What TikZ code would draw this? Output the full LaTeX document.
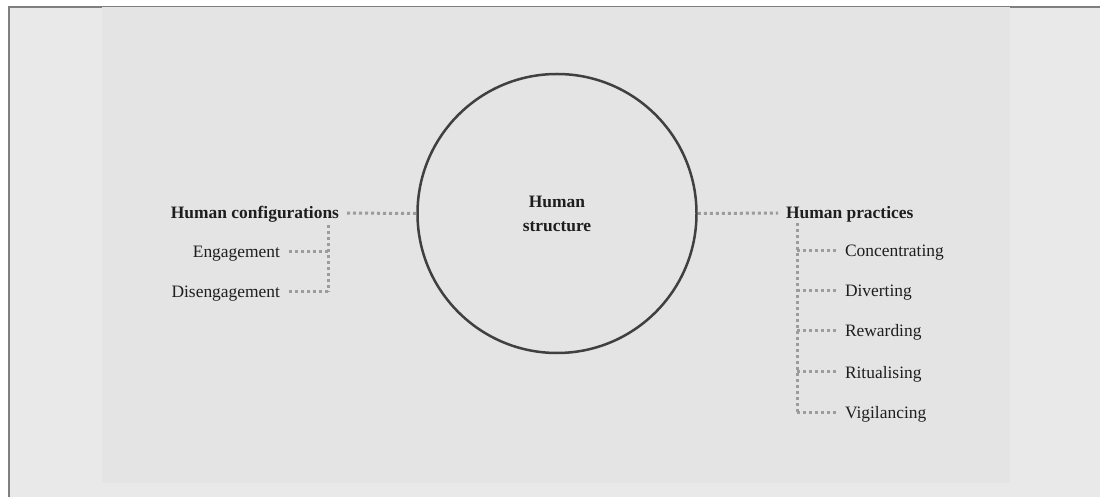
\documentclass[tikz,border=0pt]{standalone}
\usepackage{fontspec}
\setmainfont{Liberation Serif}
\usetikzlibrary{positioning}
\definecolor{pagebg}{HTML}{E9E9E9}
\definecolor{panelbg}{HTML}{E4E4E4}
\definecolor{rulegray}{HTML}{7F7F7F}
\definecolor{dotgray}{HTML}{9C9C9C}
\definecolor{inkgray}{HTML}{404040}
\definecolor{textgray}{HTML}{1E1E1E}
\begin{document}
\begin{tikzpicture}[x=1bp,y=-1bp,
    label/.style={inner sep=0pt, outer sep=0pt, text height=12bp, text depth=0bp,
      font=\fontsize{17.5}{24}\selectfont, text=textgray},
    head/.style={label, font=\fontsize{17.5}{24}\selectfont\bfseries},
    dotline/.style={dotgray, line width=3bp, dash pattern=on 3bp off 3bp},
    gapline/.style={dotline, shorten >=8bp}]
    \useasboundingbox (0,0) rectangle (1100,497);
    \fill[white] (0,0) rectangle (1100,497);
    \fill[pagebg] (8,6) rectangle (1100,497);
    \draw[rulegray, line width=2bp] (9,497) -- (9,7) -- (1100,7);
    \fill[panelbg] (102,7) rectangle (1010,483);
    % centre
    \node[circle, draw=inkgray, line width=2.5bp, minimum size=279bp, inner sep=0pt,
      align=center, font=\fontsize{17.5}{24}\selectfont\bfseries, text=textgray]
      (struct) at (557,213.5) {Human\\structure};
    % left branch
    \node[head, anchor=east] (conf) at (339,213) {Human configurations};
    \node[label, anchor=east] (eng) at (280,252) {Engagement};
    \node[label, anchor=east] (diseng) at (280,292) {Disengagement};
    \coordinate (ltop) at (328,225);
    \coordinate (lbot) at (328,292);
    \draw[dotline, shorten <=8bp] (conf.east) -- (struct.west);
    \draw[dotline] (ltop) -- (lbot);
    \draw[gapline] (ltop |- eng.east) -- (eng.east);
    \draw[gapline] (lbot) -- (diseng.east);
    % right branch
    \node[head, anchor=west] (prac) at (786,213) {Human practices};
    \coordinate (rtop) at (797,223);
    \coordinate (rbot) at (797,412);
    \draw[gapline] (struct.east) -- (prac.west);
    \draw[dotline] (rtop) -- (rbot);
    \foreach \name/\txt/\y in {conc/Concentrating/251, div/Diverting/291,
        rew/Rewarding/331, rit/Ritualising/372, vig/Vigilancing/412} {
      \node[label, anchor=west] (\name) at (845,\y) {\txt};
      \draw[gapline] (rtop |- \name.west) -- (\name.west);
    }
\end{tikzpicture}
\end{document}
